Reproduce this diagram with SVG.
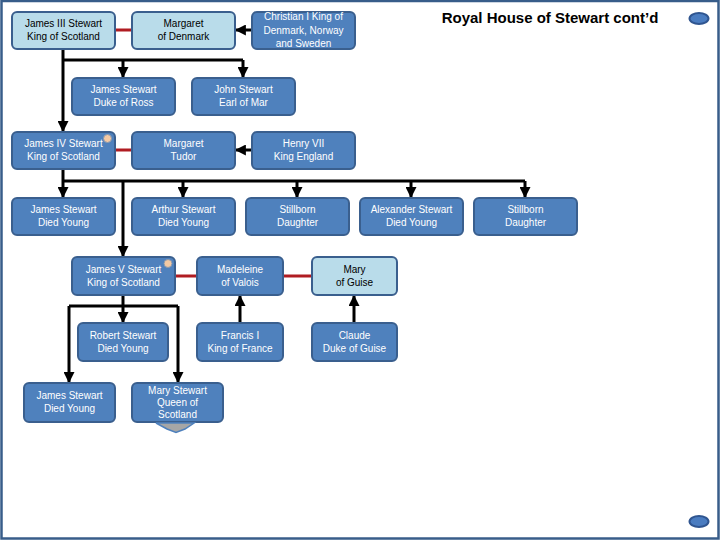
<svg xmlns="http://www.w3.org/2000/svg" width="720" height="540" viewBox="0 0 720 540">
<style>
.box{fill:#4f81bd;stroke:#3a5f8e;stroke-width:2}
.lt{fill:#b9dcea;stroke:#3a5f8e;stroke-width:2}
text{font-family:"Liberation Sans",Arial,sans-serif;font-size:10px;text-anchor:middle}
.w{fill:#ffffff}
.k{fill:#000000}
.c{fill:none;stroke:#000;stroke-width:3}
.r{fill:none;stroke:#b01c22;stroke-width:3}
.title{font-size:15px;font-weight:bold;fill:#000}
.oval{fill:#4a7cc0;stroke:#2f5590;stroke-width:2}
</style>
<defs>
<marker id="ah" markerUnits="userSpaceOnUse" markerWidth="11" markerHeight="11" viewBox="0 0 10 10" refX="9" refY="5" orient="auto">
<path d="M0,0 L10,5 L0,10 z" fill="#000"/>
</marker>
</defs>
<rect x="1.5" y="1" width="717" height="537.5" fill="#fff" stroke="#385d8a" stroke-width="2.5"/>
<text class="title" x="550" y="23">Royal House of Stewart cont’d</text>
<ellipse class="oval" cx="699" cy="18.5" rx="9.5" ry="5.5"/>
<ellipse class="oval" cx="699" cy="521.5" rx="9.5" ry="5.5"/>
<g id="connectors">
<path class="r" d="M115,30 H132 M115,150 H132 M175,276 H197 M283,276 H312"/>
<path class="c" d="M63,49 V131" marker-end="url(#ah)"/>
<path class="c" d="M63,60 H243"/>
<path class="c" d="M123,60 V77" marker-end="url(#ah)"/>
<path class="c" d="M243,60 V77" marker-end="url(#ah)"/>
<path class="c" d="M252,30 H236" marker-end="url(#ah)"/>
<path class="c" d="M252,150 H236" marker-end="url(#ah)"/>
<path class="c" d="M63,169 V197" marker-end="url(#ah)"/>
<path class="c" d="M63,181 H525"/>
<path class="c" d="M183,181 V197" marker-end="url(#ah)"/>
<path class="c" d="M297,181 V197" marker-end="url(#ah)"/>
<path class="c" d="M411,181 V197" marker-end="url(#ah)"/>
<path class="c" d="M525,181 V197" marker-end="url(#ah)"/>
<path class="c" d="M123,181 V256" marker-end="url(#ah)"/>
<path class="c" d="M123,295 V322" marker-end="url(#ah)"/>
<path class="c" d="M69,306 H178"/>
<path class="c" d="M69,306 V382" marker-end="url(#ah)"/>
<path class="c" d="M178,306 V382" marker-end="url(#ah)"/>
<path class="c" d="M240,323 V296" marker-end="url(#ah)"/>
<path class="c" d="M354,323 V296" marker-end="url(#ah)"/>
</g>
<g id="james3"><rect class="lt" x="12" y="12" width="103" height="37" rx="5"/><text class="k" x="63.5" y="27">James III Stewart</text><text class="k" x="63.5" y="40">King of Scotland</text></g>
<g id="margaret-denmark"><rect class="lt" x="132" y="12" width="103" height="37" rx="5"/><text class="k" x="183.5" y="27">Margaret</text><text class="k" x="183.5" y="40">of Denmark</text></g>
<g id="christian"><rect class="box" x="252" y="12" width="103" height="37" rx="5"/><text class="w" x="303.5" y="20">Christian I King of</text><text class="w" x="303.5" y="34">Denmark, Norway</text><text class="w" x="303.5" y="47">and Sweden</text></g>
<g id="james-ross"><rect class="box" x="72" y="78" width="103" height="37" rx="5"/><text class="w" x="123.5" y="93">James Stewart</text><text class="w" x="123.5" y="106">Duke of Ross</text></g>
<g id="john-mar"><rect class="box" x="192" y="78" width="103" height="37" rx="5"/><text class="w" x="243.5" y="93">John Stewart</text><text class="w" x="243.5" y="106">Earl of Mar</text></g>
<g id="james4"><rect class="box" x="12" y="132" width="103" height="37" rx="5"/><circle cx="107.5" cy="138.5" r="4" fill="#f4c9a3" stroke="#8a98ad" stroke-width="1"/><text class="w" x="63.5" y="147">James IV Stewart</text><text class="w" x="63.5" y="160">King of Scotland</text></g>
<g id="margaret-tudor"><rect class="box" x="132" y="132" width="103" height="37" rx="5"/><text class="w" x="183.5" y="147">Margaret</text><text class="w" x="183.5" y="160">Tudor</text></g>
<g id="henry7"><rect class="box" x="252" y="132" width="103" height="37" rx="5"/><text class="w" x="303.5" y="147">Henry VII</text><text class="w" x="303.5" y="160">King England</text></g>
<g id="james-young1"><rect class="box" x="12" y="198" width="103" height="37" rx="5"/><text class="w" x="63.5" y="213">James Stewart</text><text class="w" x="63.5" y="226">Died Young</text></g>
<g id="arthur"><rect class="box" x="132" y="198" width="103" height="37" rx="5"/><text class="w" x="183.5" y="213">Arthur Stewart</text><text class="w" x="183.5" y="226">Died Young</text></g>
<g id="stillborn1"><rect class="box" x="246" y="198" width="103" height="37" rx="5"/><text class="w" x="297.5" y="213">Stillborn</text><text class="w" x="297.5" y="226">Daughter</text></g>
<g id="alexander"><rect class="box" x="360" y="198" width="103" height="37" rx="5"/><text class="w" x="411.5" y="213">Alexander Stewart</text><text class="w" x="411.5" y="226">Died Young</text></g>
<g id="stillborn2"><rect class="box" x="474" y="198" width="103" height="37" rx="5"/><text class="w" x="525.5" y="213">Stillborn</text><text class="w" x="525.5" y="226">Daughter</text></g>
<g id="james5"><rect class="box" x="72" y="257" width="103" height="38" rx="5"/><circle cx="168" cy="263.5" r="4" fill="#f4c9a3" stroke="#8a98ad" stroke-width="1"/><text class="w" x="123.5" y="273">James V Stewart</text><text class="w" x="123.5" y="286">King of Scotland</text></g>
<g id="madeleine"><rect class="box" x="197" y="257" width="86" height="38" rx="5"/><text class="w" x="240" y="273">Madeleine</text><text class="w" x="240" y="286">of Valois</text></g>
<g id="mary-guise"><rect class="lt" x="312" y="257" width="85" height="38" rx="5"/><text class="k" x="354.5" y="273">Mary</text><text class="k" x="354.5" y="286">of Guise</text></g>
<g id="robert"><rect class="box" x="78" y="323" width="90" height="38" rx="5"/><text class="w" x="123" y="339">Robert Stewart</text><text class="w" x="123" y="352">Died Young</text></g>
<g id="francis1"><rect class="box" x="197" y="323" width="86" height="38" rx="5"/><text class="w" x="240" y="339">Francis I</text><text class="w" x="240" y="352">King of France</text></g>
<g id="claude"><rect class="box" x="312" y="323" width="85" height="38" rx="5"/><text class="w" x="354.5" y="339">Claude</text><text class="w" x="354.5" y="352">Duke of Guise</text></g>
<g id="james-young2"><rect class="box" x="24" y="383" width="91" height="39" rx="5"/><text class="w" x="69.5" y="399">James Stewart</text><text class="w" x="69.5" y="412">Died Young</text></g>
<g id="mary-stewart"><rect class="box" x="132" y="383" width="91" height="39" rx="5"/><polygon points="156,423 194,423 185,429 176,432.5 167,429" fill="#a6a6a6" stroke="#4f81bd" stroke-width="1.5"/><text class="w" x="177.5" y="394">Mary Stewart</text><text class="w" x="177.5" y="406">Queen of</text><text class="w" x="177.5" y="418">Scotland</text></g>
</svg>
